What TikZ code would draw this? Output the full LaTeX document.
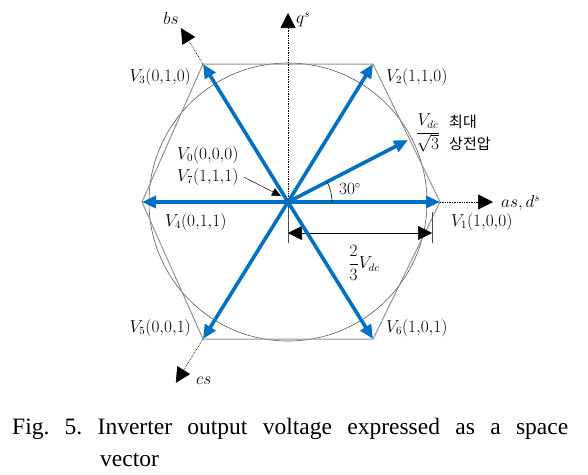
\documentclass[tikz,border=0pt]{standalone}
\usepackage{fontspec}
\setmainfont{Liberation Serif}
\newfontfamily\kr{Noto Sans CJK KR}
\usetikzlibrary{calc, arrows.meta}
\definecolor{vblue}{RGB}{0,112,192}
\tikzset{
 vec/.style={line width=3.6pt, vblue, -{Triangle[length=14pt,width=12pt]}},
 ax/.style={densely dotted, line width=0.7pt, -{Triangle[length=15pt,width=15pt]}},
 hex/.style={draw=gray!85, line width=1pt},
 lbl/.style={font=\fontsize{16}{19}\selectfont, inner sep=0pt},
 dimtip/.style={line width=0.6pt, {Triangle[length=14pt,width=14pt]}-{Triangle[length=14pt,width=14pt]}},
}
\begin{document}
\begin{tikzpicture}[x=1pt, y=-1pt]
 \useasboundingbox (0,0) rectangle (588,474);
 % 六角形の頂点
 \coordinate (O) at (288,202);
 \coordinate (V1) at (440,202);
 \coordinate (V2) at (373,64);
 \coordinate (V3) at (203,64);
 \coordinate (V4) at (142,202);
 \coordinate (V5) at (203,339);
 \coordinate (V6) at (373,339);
 \draw[gray!70!black, line width=0.6pt] (O) circle[radius=139];
 \draw[hex] (V1) -- (V2) -- (V3) -- (V4) -- (V5) -- (V6) -- cycle;
 % 軸
 \draw[ax] (O) -- (288,13) coordinate (Q);
 \draw[ax] (V1) -- (493,202) coordinate (A);
 \draw[ax] (V3) -- ($(O)!1.26!(V3)$) coordinate (B);
 \draw[ax] (V5) -- ($(O)!1.32!(V5)$) coordinate (C);
 \node[lbl, anchor=west] (qs) at (296,20) {$q^s$};
 \node[lbl, anchor=west] (as) at (501,203) {$as,d^s$};
 \node[lbl] (bs) at (171,18) {$bs$};
 \node[lbl, anchor=west] (cs) at (196,381) {$cs$};
 % 寸法線
 \draw[gray!60!black, line width=0.6pt] (O) -- (288,243);
 \draw[gray!60!black, line width=0.6pt] (432,212) -- (432,243);
 \draw[dimtip] (288,233) coordinate (D1) -- (432,233) coordinate (D2);
 \node[lbl] (dim) at (364,263) {$\displaystyle\frac{2}{3}V_{dc}$};
 % 電圧ベクトル
 \foreach \v in {1,...,6} \draw[vec] (O) -- (V\v);
 \draw[vec] (O) -- (408,140) coordinate (Vm);
 \draw[line width=0.6pt] ($(O)+(44,0)$) arc[start angle=0, end angle=-27, radius=44];
 \node[lbl] (ang) at (350,189) {$30^{\circ}$};
 \node[lbl] (vdc) at (428,133) {$\displaystyle\frac{V_{dc}}{\sqrt{3}}$};
 \node[anchor=west, inner sep=0pt, font=\fontsize{15}{17}\kr] (kr1) at (449,122) {최대};
 \node[anchor=west, inner sep=0pt, font=\fontsize{15}{17}\kr] (kr2) at (449,144) {상전압};
 % ラベル
 \node[lbl, anchor=east] (l3) at (191,77) {$V_3(0{,}1{,}0)$};
 \node[lbl, anchor=west] (l2) at (386,77) {$V_2(1{,}1{,}0)$};
 \node[lbl, anchor=west] (l1) at (451,222) {$V_1(1{,}0{,}0)$};
 \node[lbl, anchor=west] (l4) at (165,222) {$V_4(0{,}1{,}1)$};
 \node[lbl, anchor=east] (l5) at (191,328) {$V_5(0{,}0{,}1)$};
 \node[lbl, anchor=west] (l6) at (386,328) {$V_6(1{,}0{,}1)$};
 \node[lbl, anchor=west] (l0) at (177,155) {$V_0(0{,}0{,}0)$};
 \node[lbl, anchor=west] (l7) at (177,177) {$V_7(1{,}1{,}1)$};
 \draw[line width=0.5pt, -{Triangle[length=9pt,width=8pt]}] ([xshift=5pt]l7.east) -- (281,196);
 % キャプション
 \node[anchor=base west, inner sep=0pt, font=\fontsize{23.5}{28}\selectfont] (cap1) at (12,434)
  {\frenchspacing\makebox[556pt][s]{Fig. 5. Inverter output voltage expressed as a space}};
 \node[anchor=base west, inner sep=0pt, font=\fontsize{23.5}{28}\selectfont] (cap2) at (100,466) {vector};
\end{tikzpicture}
\end{document}
